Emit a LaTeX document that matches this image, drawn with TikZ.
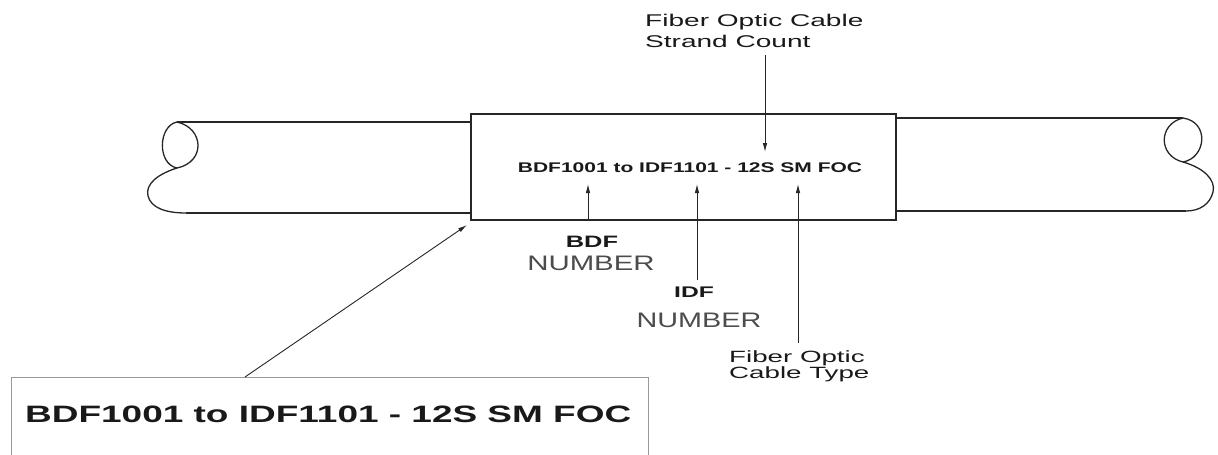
\documentclass[tikz,border=0pt]{standalone}
\usepackage{fontspec}
\setmainfont{Liberation Sans}
\usetikzlibrary{arrows.meta}
\newcommand{\hx}[2]{\scalebox{#1}[1]{#2}}
\tikzset{
  cable/.style={draw=black!85, line width=1.3pt},
  label/.style={inner sep=0pt, text=black!90},
  lead/.style={draw=black!85, line width=0.9pt, -{Latex[length=9pt,width=4.5pt]}},
  faint/.style={draw=black!40, line width=1pt}
}
\begin{document}
\begin{tikzpicture}[x=1pt,y=-1pt]
\useasboundingbox (0,0) rectangle (1218,455);
% ---- left cable end
\draw[cable] (177,122) .. controls (158,126) and (157,164) .. (177,168);
\draw[cable] (177,122) .. controls (204,128) and (206,162) .. (177,168)
   .. controls (158,174) and (145,184) .. (148,196)
   .. controls (151,208) and (166,213) .. (186,213);
\draw[cable] (177,122) -- (470,122);
\draw[cable] (186,213) -- (470,213);
% ---- right cable end
\draw[cable] (1183,118) .. controls (1210,122) and (1206,158) .. (1183,162);
\draw[cable] (1183,118) .. controls (1158,124) and (1158,156) .. (1183,162)
   .. controls (1204,168) and (1216,180) .. (1213,192)
   .. controls (1210,204) and (1200,211) .. (1186,211);
\draw[cable] (895,118) -- (1183,118);
\draw[cable] (895,211) -- (1186,211);
% ---- label sleeve
\node[draw=black!85, line width=1.5pt, fill=white, minimum width=425pt, minimum height=106pt, inner sep=0pt, anchor=north west] (sleeve) at (470,113) {};
\node[label, anchor=base] (code) at (690,172) {\hx{1.5}{\fontsize{14}{16}\selectfont\bfseries BDF1001 to IDF1101 - 12S SM FOC}};
% ---- tips
\coordinate (tipStrand) at (765,152);
\coordinate (tipBDF) at (588,184);
\coordinate (tipIDF) at (697,184);
\coordinate (tipType) at (798,184);
\coordinate (tipCorner) at (467,225);
% ---- labels
\node[label, anchor=base west] (strand1) at (645,27) {\hx{1.65}{\fontsize{17}{20}\selectfont Fiber Optic Cable}};
\node[label, anchor=base west] (strand2) at (645,47) {\hx{1.65}{\fontsize{17}{20}\selectfont Strand Count}};
\node[label, anchor=base] (bdf1) at (592,247) {\hx{1.54}{\fontsize{16.5}{18}\selectfont\bfseries BDF}};
\node[label, anchor=base, text=black!70] (bdf2) at (591,270) {\hx{1.4}{\fontsize{21}{24}\selectfont NUMBER}};
\node[label, anchor=base] (idf1) at (694,297) {\hx{1.6}{\fontsize{15.4}{18}\selectfont\bfseries IDF}};
\node[label, anchor=base, text=black!70] (idf2) at (699,327) {\hx{1.37}{\fontsize{21}{24}\selectfont NUMBER}};
\node[label, anchor=base west] (type1) at (729,362) {\hx{1.7}{\fontsize{16.3}{18}\selectfont Fiber Optic}};
\node[label, anchor=base west] (type2) at (729,378) {\hx{1.7}{\fontsize{16.3}{18}\selectfont Cable Type}};
% ---- bottom tag
\draw[faint] (11,460) -- (11,377) -- (648,377) -- (648,460);
\node[label, anchor=base west] (tag) at (25,422) {\hx{1.56}{\fontsize{23.7}{26}\selectfont\bfseries BDF1001 to IDF1101 - 12S SM FOC}};
\coordinate (tagTop) at (245,377);
% ---- leaders
\draw[lead] (765,55) -- (tipStrand);
\draw[lead] (sleeve.south -| tipBDF) -- (tipBDF);
\draw[lead] (697,280) -- (tipIDF);
\draw[lead] (798,343) -- (tipType);
\draw[lead] (tagTop) -- (tipCorner);
\end{tikzpicture}
\end{document}
